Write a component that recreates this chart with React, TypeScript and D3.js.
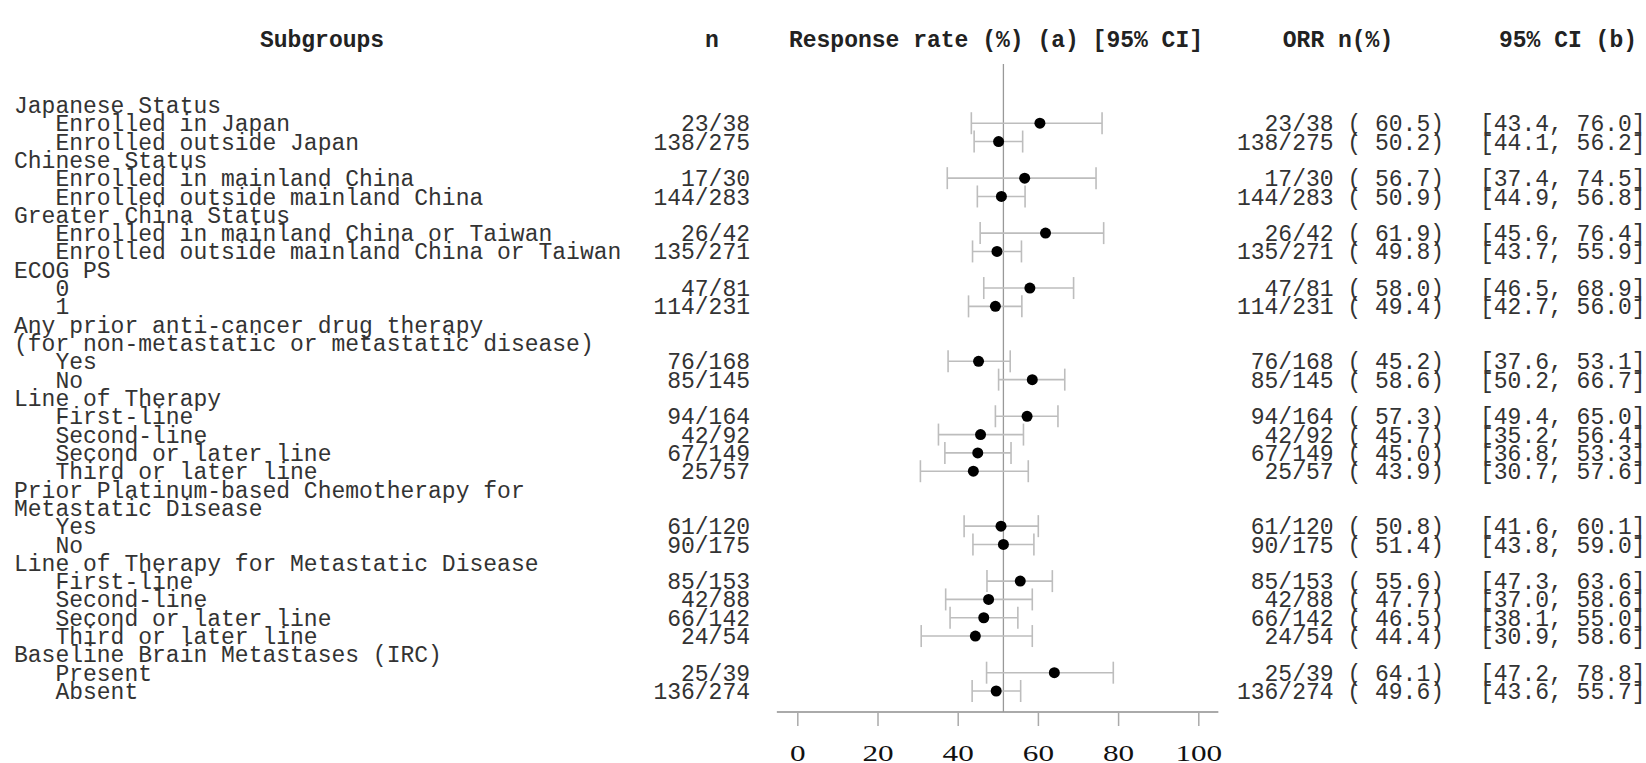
import { useRef, useEffect } from 'react';
import * as d3 from 'd3';

const width = 1646;
const height = 763;

// left column text, one entry per printed line
const rowLabels = [
    "Japanese Status", "Enrolled in Japan", "Enrolled outside Japan",
    "Chinese Status", "Enrolled in mainland China", "Enrolled outside mainland China",
    "Greater China Status", "Enrolled in mainland China or Taiwan", "Enrolled outside mainland China or Taiwan",
    "ECOG PS", "0", "1",
    "Any prior anti-cancer drug therapy", "(for non-metastatic or metastatic disease)", "Yes", "No",
    "Line of Therapy", "First-line", "Second-line", "Second or later line", "Third or later line",
    "Prior Platinum-based Chemotherapy for", "Metastatic Disease", "Yes", "No",
    "Line of Therapy for Metastatic Disease", "First-line", "Second-line", "Second or later line", "Third or later line",
    "Baseline Brain Metastases (IRC)", "Present", "Absent",
];
// 0 = group title, 1 = subgroup (has an estimate)
const rowLevels = [
    0, 1, 1,
    0, 1, 1,
    0, 1, 1,
    0, 1, 1,
    0, 0, 1, 1,
    0, 1, 1, 1, 1,
    0, 0, 1, 1,
    0, 1, 1, 1, 1,
    0, 1, 1,
];

const responders = [23, 138, 17, 144, 26, 135, 47, 114, 76, 85, 94, 42, 67, 25, 61, 90, 85, 42, 66, 24, 25, 136];
const totals = [38, 275, 30, 283, 42, 271, 81, 231, 168, 145, 164, 92, 149, 57, 120, 175, 153, 88, 142, 54, 39, 274];
const rates = [60.5, 50.2, 56.7, 50.9, 61.9, 49.8, 58.0, 49.4, 45.2, 58.6, 57.3, 45.7, 45.0, 43.9, 50.8, 51.4, 55.6, 47.7, 46.5, 44.4, 64.1, 49.6];
const ciLow = [43.4, 44.1, 37.4, 44.9, 45.6, 43.7, 46.5, 42.7, 37.6, 50.2, 49.4, 35.2, 36.8, 30.7, 41.6, 43.8, 47.3, 37.0, 38.1, 30.9, 47.2, 43.6];
const ciHigh = [76.0, 56.2, 74.5, 56.8, 76.4, 55.9, 68.9, 56.0, 53.1, 66.7, 65.0, 56.4, 53.3, 57.6, 60.1, 59.0, 63.6, 58.6, 55.0, 58.6, 78.8, 55.7];

const overallRate = 51.4;
const xTicks = [0, 20, 40, 60, 80, 100];

const mono = "'Liberation Mono', 'Courier New', monospace";
const fontSize = 23;
const adv = fontSize * 0.6;
const textColor = "#333";
const barColor = "#bdbdbd";

const ForestPlot = () => {
    const ref = useRef(null);

    useEffect(() => {
        const svg = d3.select(ref.current);
        svg.selectAll("*").remove();

        svg.append("rect").attr("width", width).attr("height", height).attr("fill", "white");

        const x = d3.scaleLinear().domain([0, 100]).range([797.3, 1198.3]);
        const y = d3.scalePoint().domain(d3.range(rowLabels.length)).range([104.9, 691]);

        // column headers, centred over their columns
        const headers = [
            { t: "Subgroups", x: 322 },
            { t: "n", x: 712 },
            { t: "Response rate (%) (a) [95% CI]", x: 996 },
            { t: "ORR n(%)", x: 1338 },
            { t: "95% CI (b)", x: 1568 },
        ];
        svg.append("g").selectAll("text").data(headers).enter().append("text")
            .attr("x", d => d.x).attr("y", 39).attr("dy", "0.35em")
            .attr("text-anchor", "middle")
            .style("font-family", mono).style("font-size", fontSize + "px").style("font-weight", "bold")
            .attr("fill", "#222")
            .text(d => d.t);

        // subgroup rows map onto their line in the left column
        const dataRows = rowLevels.map((l, i) => l === 1 ? i : -1).filter(i => i >= 0);
        const rows = dataRows.map((r, i) => ({
            row: r, resp: responders[i], tot: totals[i], rate: rates[i], lo: ciLow[i], hi: ciHigh[i],
        }));

        svg.append("g").selectAll("text").data(rowLabels).enter().append("text")
            .attr("x", (d, i) => 14 + rowLevels[i] * 3 * adv)
            .attr("y", (d, i) => y(i))
            .attr("dy", "0.35em")
            .style("font-family", mono).style("font-size", fontSize + "px")
            .attr("fill", textColor)
            .text(d => d);

        // n column
        svg.append("g").selectAll("text").data(rows).enter().append("text")
            .attr("x", 750).attr("y", d => y(d.row)).attr("dy", "0.35em")
            .attr("text-anchor", "end")
            .style("font-family", mono).style("font-size", fontSize + "px")
            .attr("fill", textColor)
            .text(d => `${d.resp}/${d.tot}`);

        // ORR n(%) column
        svg.append("g").selectAll("text").data(rows).enter().append("text")
            .attr("x", 1444).attr("y", d => y(d.row)).attr("dy", "0.35em")
            .attr("text-anchor", "end")
            .style("font-family", mono).style("font-size", fontSize + "px")
            .style("white-space", "pre")
            .attr("fill", textColor)
            .text(d => `${d.resp}/${d.tot} (${d.rate.toFixed(1).padStart(5, " ")})`);

        // 95% CI column
        svg.append("g").selectAll("text").data(rows).enter().append("text")
            .attr("x", 1480).attr("y", d => y(d.row)).attr("dy", "0.35em")
            .style("font-family", mono).style("font-size", fontSize + "px")
            .style("white-space", "pre")
            .attr("fill", textColor)
            .text(d => `[${d.lo.toFixed(1)}, ${d.hi.toFixed(1)}]`);

        // axis
        const axisY = 712;
        const axisG = svg.append("g").attr("transform", `translate(0, ${axisY})`);
        axisG.call(d3.axisBottom(x).tickValues(xTicks).tickSize(14).tickSizeOuter(0).tickPadding(18))
        axisG.select(".domain").remove();
        axisG.selectAll(".tick line").attr("stroke", "#aaa").attr("stroke-width", 1.5);
        axisG.selectAll(".tick text")
            .attr("fill", "#111")
            .attr("transform", "scale(1.3,1)")
            .style("font-family", "'Liberation Serif', 'Times New Roman', serif")
            .style("font-size", "24px");
        svg.append("line")
            .attr("x1", x(-5.1)).attr("x2", x(105))
            .attr("y1", axisY).attr("y2", axisY)
            .attr("stroke", "#aaa").attr("stroke-width", 2);

        // overall reference line
        svg.append("line")
            .attr("x1", x(overallRate)).attr("x2", x(overallRate))
            .attr("y1", 64).attr("y2", axisY)
            .attr("stroke", "#999").attr("stroke-width", 1.3);

        // confidence intervals
        const ci = svg.append("g").selectAll("g").data(rows).enter().append("g")
            .attr("stroke", barColor).attr("stroke-width", 1.6);
        ci.append("line")
            .attr("x1", d => x(d.lo)).attr("x2", d => x(d.hi))
            .attr("y1", d => y(d.row)).attr("y2", d => y(d.row));
        ci.append("line")
            .attr("x1", d => x(d.lo)).attr("x2", d => x(d.lo))
            .attr("y1", d => y(d.row) - 11).attr("y2", d => y(d.row) + 11);
        ci.append("line")
            .attr("x1", d => x(d.hi)).attr("x2", d => x(d.hi))
            .attr("y1", d => y(d.row) - 11).attr("y2", d => y(d.row) + 11);

        // point estimates
        svg.append("g").selectAll("circle").data(rows).enter().append("circle")
            .attr("cx", d => x(d.rate)).attr("cy", d => y(d.row))
            .attr("r", 5.5).attr("fill", "black");
    }, []);

    return (
        <svg ref={ref} width={width} height={height}
            style={{ position: "absolute", left: 0, top: 0, display: "block" }} />
    );
};

export default function App() {
    return <ForestPlot />;
}
